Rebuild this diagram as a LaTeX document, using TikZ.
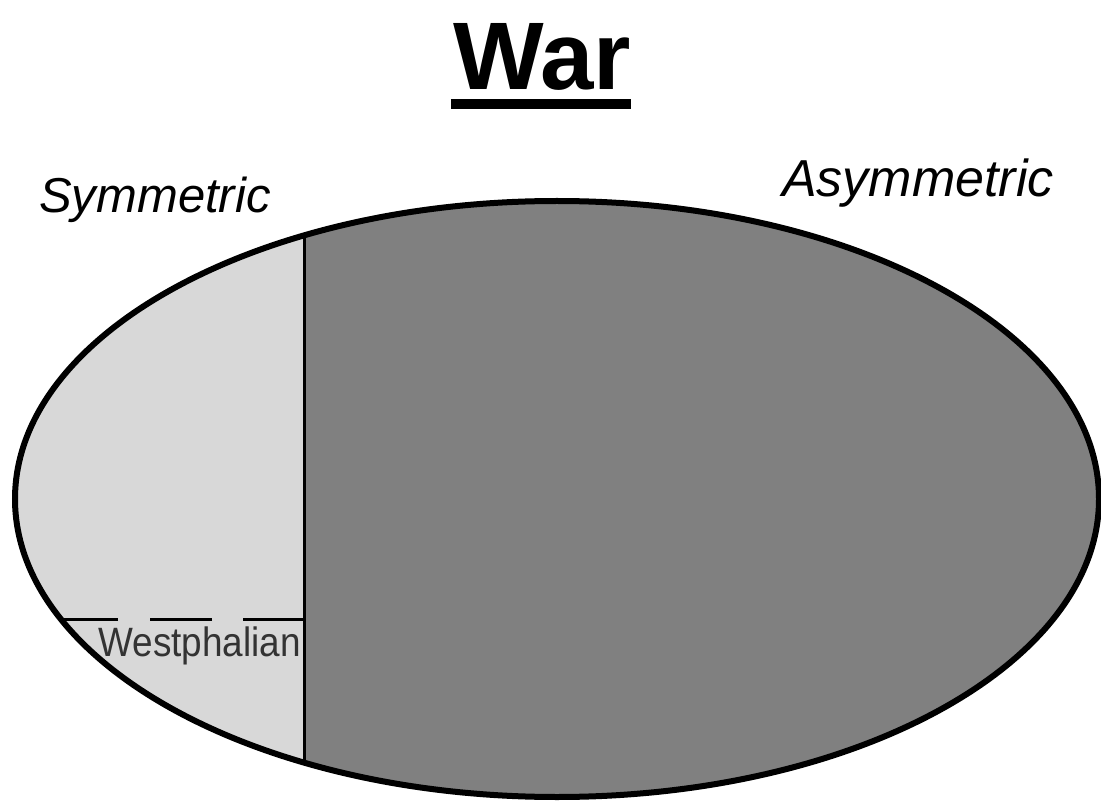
\documentclass[tikz,border=0pt]{standalone}
\usepackage{fontspec}
\setmainfont{Liberation Sans}
\usepackage{xcolor}
\definecolor{warlight}{HTML}{D8D8D8}
\definecolor{wardark}{HTML}{808080}

\begin{document}
\begin{tikzpicture}[x=1pt, y=-1pt,
  lbl/.style={inner sep=0pt, anchor=base}]

\useasboundingbox (0,0) rectangle (1101,802);

% Title
\node[lbl, font=\fontsize{96}{96}\selectfont\bfseries] (title) at (542,90) {War};
\draw[line width=10pt] ([yshift=-14pt,xshift=-2pt]title.base west) -- ([yshift=-14pt]title.base east);

% Ellipse split in two regions
\coordinate (ctr) at (557,499);
\fill[warlight] (ctr) ellipse [x radius=542, y radius=298];
\begin{scope}
  \clip (ctr) ellipse [x radius=542, y radius=298];
  \fill[wardark] (304,0) rectangle (1101,802);
  \draw[line width=3pt] (304,0) -- (304,802);
  \draw[line width=3pt, dash pattern=on 61pt off 31pt on 62pt off 32pt on 200pt off 0pt] (304,619) -- (0,619);
\end{scope}
\draw[line width=6pt] (ctr) ellipse [x radius=542, y radius=298];

% Labels
\node[lbl, font=\fontsize{49}{49}\selectfont\itshape] (sym) at (155,213) {Symmetric};
\node[lbl, font=\fontsize{52}{52}\selectfont\itshape] (asym) at (918,197) {Asymmetric};
\node[inner sep=0pt, anchor=base east, xscale=0.9, font=\fontsize{41}{41}\selectfont, text=black!80] (west) at (301,656) {Westphalian};

\end{tikzpicture}
\end{document}
